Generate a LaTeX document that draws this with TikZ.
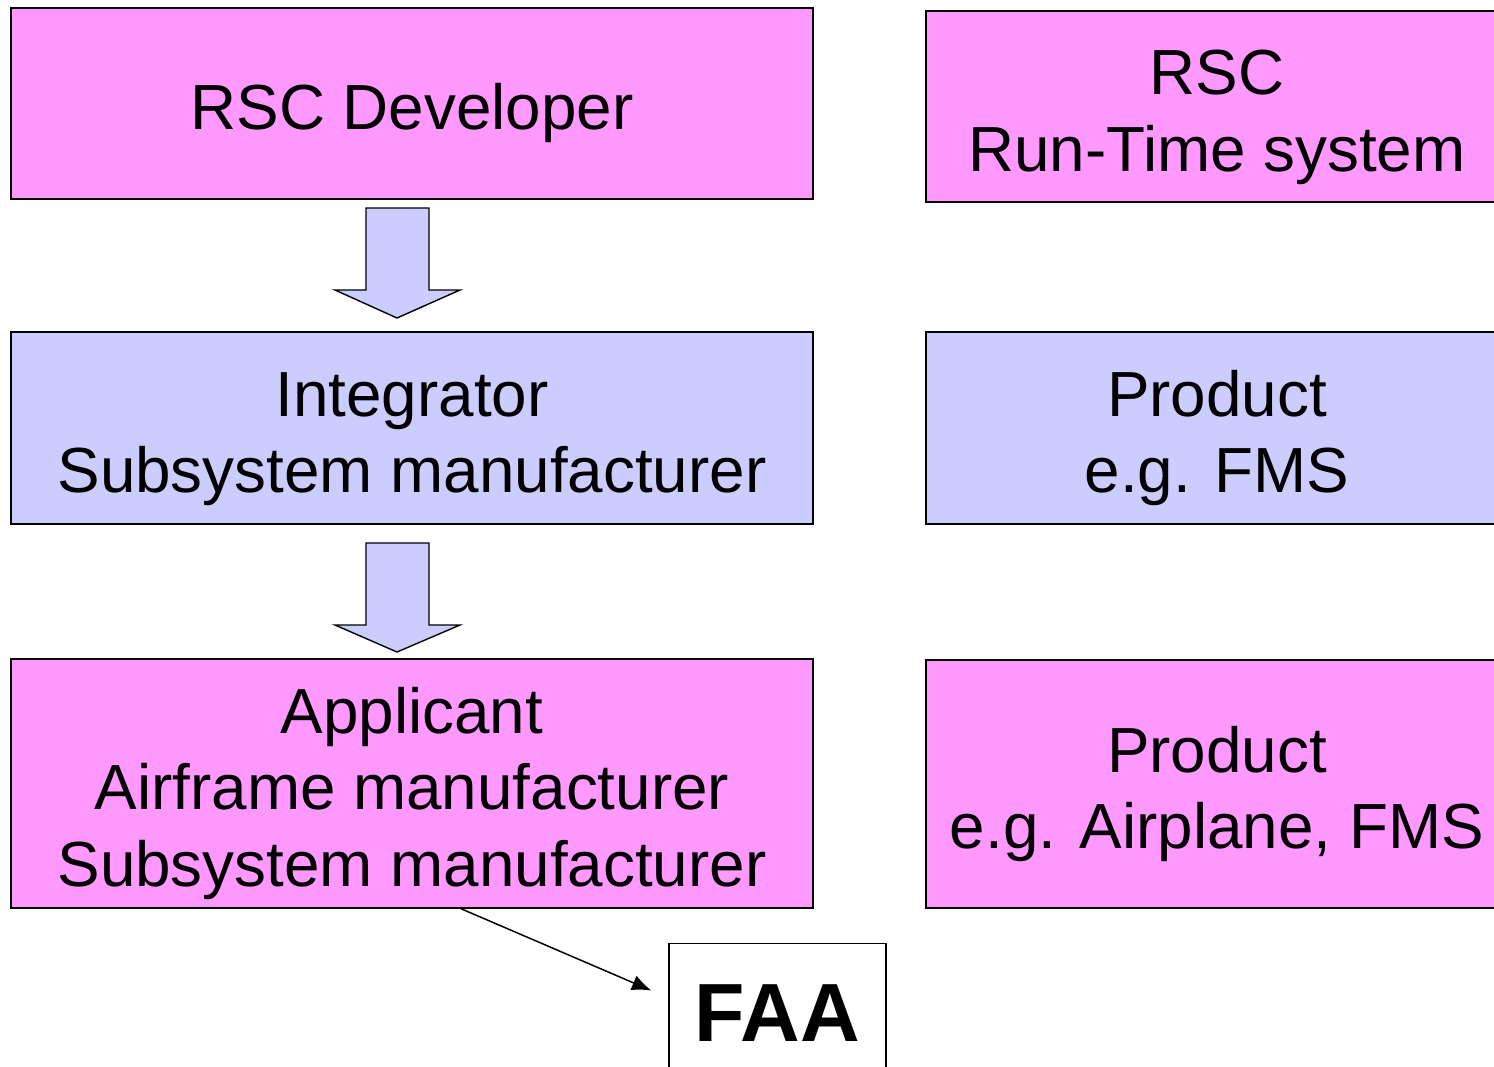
\documentclass[tikz,border=0pt]{standalone}
\usepackage{fontspec}
\setmainfont{Liberation Sans}
\usetikzlibrary{calc,arrows.meta}
\definecolor{pinkbox}{HTML}{FF99FF}
\definecolor{lavbox}{HTML}{CCCCFF}
\newcommand\padtop{\rule{0pt}{37.5pt}}
\begin{document}
\begin{tikzpicture}[x=0.02cm,y=-0.02cm,
  box/.style={draw=black,line width=0.8pt,align=center,inner sep=0pt,
    font=\fontsize{36.3}{43.6}\selectfont},
  pinkb/.style={box,fill=pinkbox},
  lavb/.style={box,fill=lavbox},
  blockarrow/.style={draw=black,line width=0.8pt,fill=lavbox,line join=miter},
  conn/.style={draw=black,line width=0.85pt,-{Latex[length=11pt,width=9pt]}}]
\clip (0,0) rectangle (1494,1066);
\fill[white] (0,0) rectangle (1494,1066);
% left column
\node[pinkb,minimum width=802*0.02cm,minimum height=191*0.02cm] (dev) at (412,103.5) {\padtop RSC Developer};
\node[lavb,minimum width=802*0.02cm,minimum height=192*0.02cm] (integ) at (412,428) {\padtop Integrator\\Subsystem manufacturer};
\node[pinkb,minimum width=802*0.02cm,minimum height=249*0.02cm] (appl) at (412,783.5) {\padtop Applicant\\Airframe manufacturer\\Subsystem manufacturer};
% right column
\node[pinkb,minimum width=582*0.02cm,minimum height=191*0.02cm] (rts) at (1217,106.5) {\padtop RSC\\Run-Time system};
\node[lavb,minimum width=582*0.02cm,minimum height=192*0.02cm] (prod1) at (1217,428) {\padtop Product\\e.g. FMS};
\node[pinkb,minimum width=582*0.02cm,minimum height=248*0.02cm] (prod2) at (1217,784) {\padtop Product\\e.g. Airplane, FMS};
% FAA
\node[draw=black,line width=0.8pt,fill=white,inner sep=0pt,minimum width=217*0.02cm,minimum height=140*0.02cm,
  font=\fontsize{47}{56}\selectfont\bfseries] (faa) at (777.5,1013.5) {FAA};
% block arrows
\draw[blockarrow] (366,208) -- (429,208) -- (429,290) -- (460,290) -- (397,318) -- (335,290) -- (366,290) -- cycle;
\draw[blockarrow] (366,543) -- (429,543) -- (429,625) -- (460,625) -- (397,652) -- (335,625) -- (366,625) -- cycle;
% connector
\coordinate (cstart) at ($(appl.south)+(49,0)$);
\coordinate (cend) at ($(faa.west)+(-17,-23)$);
\draw[conn] (cstart) -- (cend);
\end{tikzpicture}
\end{document}
